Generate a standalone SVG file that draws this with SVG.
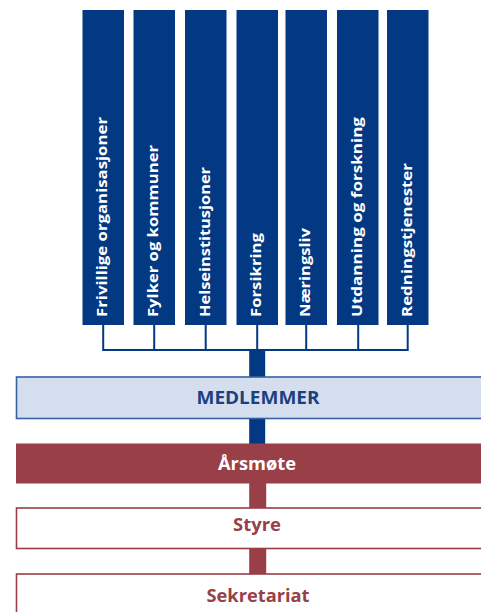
<svg xmlns="http://www.w3.org/2000/svg" width="481" height="612" viewBox="0 0 481 612">
<style>
.col{fill:#033983}
.ct{font-family:"Open Sans","Liberation Sans",sans-serif;font-weight:700;font-size:13.8px;fill:#ffffff}
.bt{font-family:"Open Sans","Liberation Sans",sans-serif;font-weight:700;font-size:17px;text-anchor:middle}
.thin{fill:none;stroke:#033983;stroke-width:2}
</style>
<rect width="481" height="612" fill="#ffffff"/>
<g id="connectors">
<path class="thin" d="M103.2 325V350H407.7V325M154.2 325V350M205.7 325V350M257.2 325V350M306.2 325V350M358.2 325V350"/>
<rect x="249.2" y="349" width="16" height="28.5" fill="#033983"/>
<rect x="249.2" y="418" width="16" height="26" fill="#033983"/>
<rect x="249.2" y="483" width="17" height="25.5" fill="#983f48"/>
<rect x="249.2" y="548" width="17" height="26" fill="#983f48"/>
</g>
<g id="frivillige"><rect class="col" x="82.5" y="10" width="41.5" height="315"/><text class="ct" transform="translate(107,317) rotate(-90)" textLength="200" lengthAdjust="spacingAndGlyphs">Frivillige organisasjoner</text></g>
<g id="fylker"><rect class="col" x="133.5" y="10" width="41.5" height="315"/><text class="ct" transform="translate(158,317) rotate(-90)" textLength="172" lengthAdjust="spacingAndGlyphs">Fylker og kommuner</text></g>
<g id="helse"><rect class="col" x="185" y="10" width="41.5" height="315"/><text class="ct" transform="translate(209.5,317) rotate(-90)" textLength="150" lengthAdjust="spacingAndGlyphs">Helseinstitusjoner</text></g>
<g id="forsikring"><rect class="col" x="236.5" y="10" width="41.5" height="315"/><text class="ct" transform="translate(261,317) rotate(-90)" textLength="84" lengthAdjust="spacingAndGlyphs">Forsikring</text></g>
<g id="naeringsliv"><rect class="col" x="285.5" y="10" width="41.5" height="315"/><text class="ct" transform="translate(310,317) rotate(-90)" textLength="89" lengthAdjust="spacingAndGlyphs">Næringsliv</text></g>
<g id="utdanning"><rect class="col" x="337" y="10" width="41.5" height="315"/><text class="ct" transform="translate(361.5,317) rotate(-90)" textLength="200" lengthAdjust="spacingAndGlyphs">Utdanning og forskning</text></g>
<g id="redning"><rect class="col" x="387" y="10" width="41.5" height="315"/><text class="ct" transform="translate(411.5,317) rotate(-90)" textLength="154" lengthAdjust="spacingAndGlyphs">Redningstjenester</text></g>
<g id="medlemmer"><rect x="16.5" y="377" width="490" height="41.5" fill="#d4deef" stroke="#3562a6" stroke-width="1.6"/><text class="bt" x="258" y="403.5" fill="#1b3f7f" textLength="123" lengthAdjust="spacingAndGlyphs">MEDLEMMER</text></g>
<g id="arsmote"><rect x="16" y="443.5" width="490" height="40" fill="#983f48"/><text class="bt" x="257" y="470" fill="#ffffff" textLength="78" lengthAdjust="spacingAndGlyphs">Årsmøte</text></g>
<g id="styre"><rect x="16.5" y="508" width="490" height="40.5" fill="#ffffff" stroke="#983f48" stroke-width="1.6"/><text class="bt" x="257" y="530.5" fill="#983f48" textLength="48" lengthAdjust="spacingAndGlyphs">Styre</text></g>
<g id="sekretariat"><rect x="16.5" y="574" width="490" height="60" fill="#ffffff" stroke="#983f48" stroke-width="1.6"/><text class="bt" x="258" y="601.5" fill="#983f48" textLength="103" lengthAdjust="spacingAndGlyphs">Sekretariat</text></g>
</svg>
